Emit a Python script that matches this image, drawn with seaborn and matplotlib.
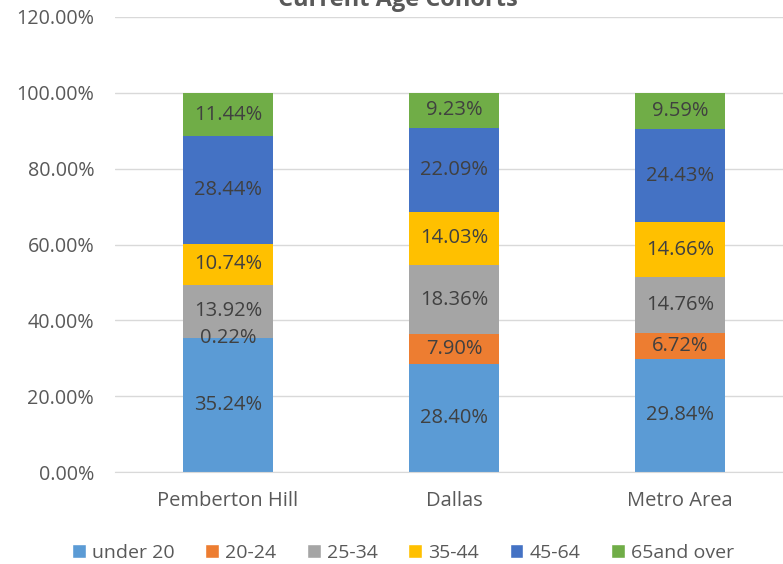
import numpy as np
import pandas as pd
import matplotlib
matplotlib.use("Agg")
import matplotlib.pyplot as plt
import seaborn as sns
from matplotlib.patches import Patch
from matplotlib.ticker import FuncFormatter

places = ["Pemberton Hill", "Dallas", "Metro Area"]
groups = ["under 20", "20-24", "25-34", "35-44", "45-64", "65and over"]
under_20 = [35.24, 28.40, 29.84]
age_20_24 = [0.22, 7.90, 6.72]
age_25_34 = [13.92, 18.36, 14.76]
age_35_44 = [10.74, 14.03, 14.66]
age_45_64 = [28.44, 22.09, 24.43]
age_65_up = [11.44, 9.23, 9.59]
colors = ["#5B9BD5", "#ED7D31", "#A5A5A5", "#FFC000", "#4472C4", "#70AD47"]

series = [under_20, age_20_24, age_25_34, age_35_44, age_45_64, age_65_up]
df = pd.DataFrame({"place": places})
for g, vals in zip(groups, series):
    df[g] = vals

sns.set_style("white")
plt.rcParams["font.family"] = ["Open Sans", "DejaVu Sans"]
text_col = "#595959"

fig = plt.figure(figsize=(7.83, 5.64), dpi=100)
ax = fig.add_axes([115 / 783, 1 - 472 / 564, 678 / 783, (472 - 17) / 564])

bottom = np.zeros(len(places))
for g, c in zip(groups, colors):
    sns.barplot(data=df, x="place", y=g, order=places, color=c, bottom=bottom,
                width=0.4, ax=ax, saturation=1, edgecolor="none")
    for i, v in enumerate(df[g]):
        ax.text(i, bottom[i] + v / 2, f"{v:.2f}%", ha="center", va="center",
                fontsize=14.5, color="#404040")
    bottom = bottom + df[g].values

ax.set_xlim(-0.5, 2.5)
ax.set_ylim(0, 120)
ax.set_yticks(np.arange(0, 121, 20))
ax.yaxis.set_major_formatter(FuncFormatter(lambda v, p: f"{v:.2f}%"))
ax.grid(axis="y", color="#D9D9D9", linewidth=1)
ax.set_axisbelow(True)
for s in ["top", "right", "left"]:
    ax.spines[s].set_visible(False)
ax.spines["bottom"].set_color("#D9D9D9")
ax.set_xlabel("")
ax.set_ylabel("")
ax.tick_params(axis="both", length=0, colors=text_col)
ax.tick_params(axis="x", pad=14, labelsize=14.5)
ax.tick_params(axis="y", pad=15, labelsize=14.2)

fig.text(398 / 783, 1 - 6 / 564, "Current Age Cohorts", ha="center", va="baseline",
         fontsize=17, fontweight="bold", color=text_col)

handles = [Patch(facecolor=c, label=g) for g, c in zip(groups, colors)]
fig.legend(handles=handles, loc="center", bbox_to_anchor=(403 / 783, 1 - 553 / 564),
           ncol=6, frameon=False, fontsize=14, handlelength=0.7, handleheight=0.7,
           handletextpad=0.3, columnspacing=1.6, labelcolor=text_col)

fig.savefig("out.png", dpi=100)
